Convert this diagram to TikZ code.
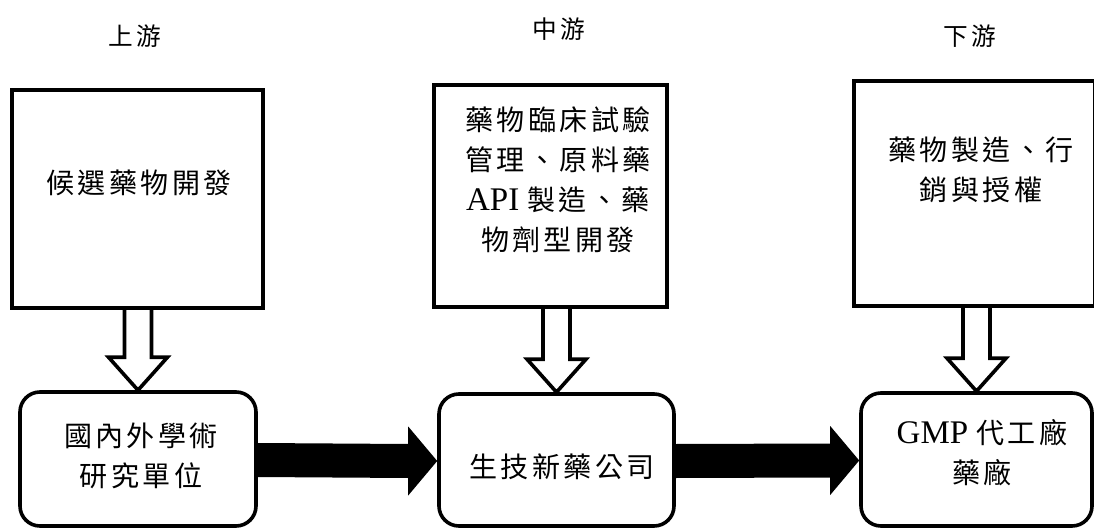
\documentclass[tikz,border=0pt]{standalone}
\usepackage{fontspec}
\setmainfont{Liberation Serif}
\newfontfamily\cjk[LetterSpace=12,Scale=0.85]{Noto Sans CJK TC}
\usetikzlibrary{calc}
\tikzset{
  sqbox/.style={draw, line width=3.6pt, rectangle, inner sep=0pt},
  rbox/.style={draw, line width=3.6pt, rectangle, rounded corners=20pt, inner sep=0pt},
  txt/.style={align=center, inner sep=0pt, font=\fontsize{33}{40}\selectfont},
  head/.style={inner sep=0pt, font=\fontsize{29}{32}\selectfont\cjk},
  hollow/.style={draw, line width=3.6pt, fill=white, line join=miter},
  solid/.style={fill=black, draw=none}
}
\begin{document}
\begin{tikzpicture}[x=1pt, y=-1pt]
\useasboundingbox (0,0) rectangle (1094,529);
% headers
\node[head] (h1) at (135,36) {上游};
\node[head] (h2) at (559,29) {中游};
\node[head] (h3) at (970,36) {下游};
% squares
\node[sqbox, minimum width=251pt, minimum height=218pt] (s1) at (137.5,199) {};
\node[sqbox, minimum width=233pt, minimum height=222pt] (s2) at (550.5,196) {};
\node[sqbox, minimum width=241pt, minimum height=225pt] (s3) at (974.5,193.5) {};
% rounded boxes
\node[rbox, minimum width=236pt, minimum height=134pt] (r1) at (138,459) {};
\node[rbox, minimum width=235pt, minimum height=132pt] (r2) at (556.5,460) {};
\node[rbox, minimum width=231pt, minimum height=133pt] (r3) at (976.5,459.5) {};
% texts
\node[txt] (t1) at (139,183) {\cjk 候選藥物開發};
\node[txt] (t2) at (141,456) {\cjk 國內外學術\\\cjk 研究單位};
\node[txt] (t3) at (558,180) {\cjk 藥物臨床試驗\\\cjk 管理、原料藥\\API {\cjk 製造、藥}\\\cjk 物劑型開發};
\node[txt] (t4) at (562,467) {\cjk 生技新藥公司};
\node[txt] (t5) at (981,170) {\cjk 藥物製造、行\\\cjk 銷與授權};
\node[txt] (t6) at (982,453) {GMP {\cjk 代工廠}\\\cjk 藥廠};
% hollow arrows (square -> rounded box)
\foreach \s/\r in {s1/r1, s2/r2, s3/r3}{
  \draw[hollow] ($(\s.south -| \r.north)+(-13.5,0)$) -- ($(\r.north)+(-13.5,-33)$)
    -- ($(\r.north)+(-29.5,-33)$) -- (\r.north) -- ($(\r.north)+(29.5,-33)$)
    -- ($(\r.north)+(13.5,-33)$) -- ($(\s.south -| \r.north)+(13.5,0)$);
}
% solid arrows (rounded box -> rounded box)
\foreach \a/\b in {r1/r2, r2/r3}{
  \fill[solid] ($(\a.east)+(0,-16)$) -- ($(\b.west)+(-29,-16)$) -- ($(\b.west)+(-29,-33.5)$)
    -- ($(\b.west)+(0,1)$) -- ($(\b.west)+(-29,35.5)$) -- ($(\b.west)+(-29,18)$)
    -- ($(\a.east)+(0,18)$) -- cycle;
}
% redraw boxes over arrow ends
\node[sqbox, minimum width=251pt, minimum height=218pt] at (s1) {};
\node[sqbox, minimum width=233pt, minimum height=222pt] at (s2) {};
\node[sqbox, minimum width=241pt, minimum height=225pt] at (s3) {};
\end{tikzpicture}
\end{document}
